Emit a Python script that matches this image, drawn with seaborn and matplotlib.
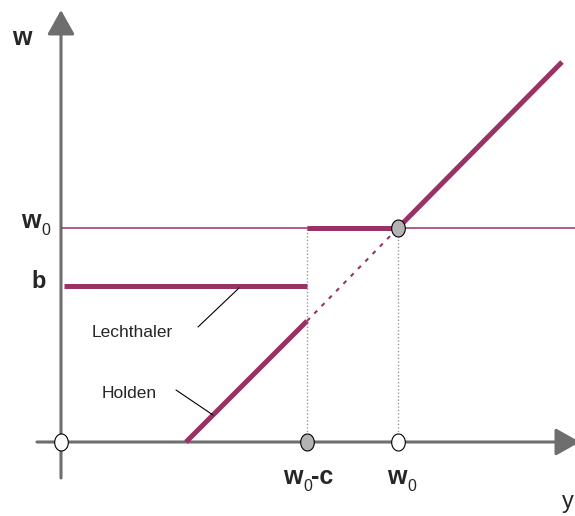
import matplotlib
matplotlib.use("Agg")
import numpy as np
import matplotlib.pyplot as plt
from matplotlib.path import Path
import seaborn as sns

# Diagram units (the picture has no tick values, so the scale is arbitrary)
w0 = 2.14          # level w0 on the w axis
b = 1.56           # Lechthaler flat level b
y_c = 2.46         # w0-c on the y axis
y_w0 = 3.37        # w0 on the y axis

# Holden: 45 degree line, solid below w0-c, dashed up to w0, solid above
holden_y = [1.25, 2.46]
holden_w = [0.0, 1.21]
dash_y = [2.46, 3.37]
dash_w = [1.21, 2.14]
upper_y = [3.37, 5.01]
upper_w = [2.14, 3.80]

# Lechthaler: flat at b, jumps to w0 at w0-c, joins the diagonal at w0
lecht_low_y = [0.03, 2.46]
lecht_low_w = [1.56, 1.56]
lecht_high_y = [2.46, 3.37]
lecht_high_w = [2.14, 2.14]

# marked points
open_y = [0.0, 3.37]
open_w = [0.0, 0.0]
grey_y = [2.46, 3.37]
grey_w = [0.0, 2.14]

PURPLE = "#993366"
AXIS_GREY = "#6e6e6e"
PX = 0.72  # points per pixel at dpi 100


def w_label(ax, x, y, suffix=""):
    """Bold w with a plain subscript 0, optionally followed by a suffix."""
    ax.text(x, y, "w", fontsize=18, fontweight="bold", ha="left", va="baseline")
    ax.annotate("0", (x, y), xytext=(20 * PX, -6.5 * PX), textcoords="offset points",
                fontsize=11.5, ha="left", va="baseline")
    if suffix:
        ax.annotate(suffix, (x, y), xytext=(28 * PX, 0), textcoords="offset points",
                    fontsize=18, fontweight="bold", ha="left", va="baseline")


def main():
    sns.set_theme(style="white")
    plt.rcParams["font.family"] = ["Liberation Sans", "DejaVu Sans"]

    fig = plt.figure(figsize=(5.75, 5.16), dpi=100)
    ax = fig.add_axes([0, 0, 1, 1])
    ax.set_xlim(-0.61, 5.14)
    ax.set_ylim(-0.74, 4.42)
    ax.set_axis_off()

    # axes with arrow heads
    arrow = dict(arrowstyle="-|>,head_length=0.75,head_width=0.42", color=AXIS_GREY,
                 lw=2.2, mutation_scale=20, shrinkA=0, shrinkB=0)
    ax.annotate("", xy=(0, 4.32), xytext=(0, -0.36), arrowprops=arrow,
                annotation_clip=False, zorder=1)
    ax.annotate("", xy=(5.19, 0), xytext=(-0.24, 0), arrowprops=arrow,
                annotation_clip=False, zorder=1)

    # thin w0 reference line and dotted drop lines
    ax.hlines(w0, 0, 5.14, colors=PURPLE, lw=1.1, zorder=2)
    ax.vlines([y_c, y_w0], 0, w0, colors="#9a9a9a", lw=1.0,
              linestyles=(0, (1, 1.5)), zorder=2)

    # Holden and Lechthaler segments
    thick = dict(color=PURPLE, lw=3.6, sort=False, estimator=None, ax=ax,
                 solid_capstyle="butt", zorder=3)
    sns.lineplot(x=holden_y, y=holden_w, **thick)
    sns.lineplot(x=upper_y, y=upper_w, **thick)
    sns.lineplot(x=lecht_low_y, y=lecht_low_w, **thick)
    sns.lineplot(x=lecht_high_y, y=lecht_high_w, **thick)
    sns.lineplot(x=dash_y, y=dash_w, color=PURPLE, lw=1.5, sort=False,
                 estimator=None, ax=ax, linestyle=(0, (2, 3)), zorder=3)

    # oval point markers
    t = np.linspace(0, 2 * np.pi, 60)
    oval = Path(np.column_stack([0.8 * np.cos(t), np.sin(t)]), closed=True)
    ax.scatter(open_y, open_w, marker=oval, s=150, facecolor="white",
               edgecolor="black", linewidth=0.8, zorder=5)
    ax.scatter(grey_y, grey_w, marker=oval, s=150, facecolor="#b3b3b3",
               edgecolor="black", linewidth=0.8, zorder=5)

    # axis labels and level labels
    ax.text(-0.49, 3.97, "w", fontsize=18, fontweight="bold", va="baseline")
    ax.text(5.01, -0.66, "y", fontsize=17, va="baseline")
    ax.text(-0.30, 1.54, "b", fontsize=17, fontweight="bold", va="baseline")
    w_label(ax, -0.40, 2.14)
    w_label(ax, 2.22, -0.425, suffix="-c")
    w_label(ax, 3.26, -0.425)

    # curve names with leader lines
    ax.text(0.31, 1.05, "Lechthaler", fontsize=12.5, va="baseline")
    ax.text(0.41, 0.44, "Holden", fontsize=12.5, va="baseline")
    ax.plot([1.37, 1.78], [1.15, 1.54], color="black", lw=0.8, zorder=4)
    ax.plot([1.15, 1.52], [0.52, 0.27], color="black", lw=0.8, zorder=4)

    fig.savefig("out.png", dpi=100, facecolor="white")
    plt.close(fig)


if __name__ == "__main__":
    main()
